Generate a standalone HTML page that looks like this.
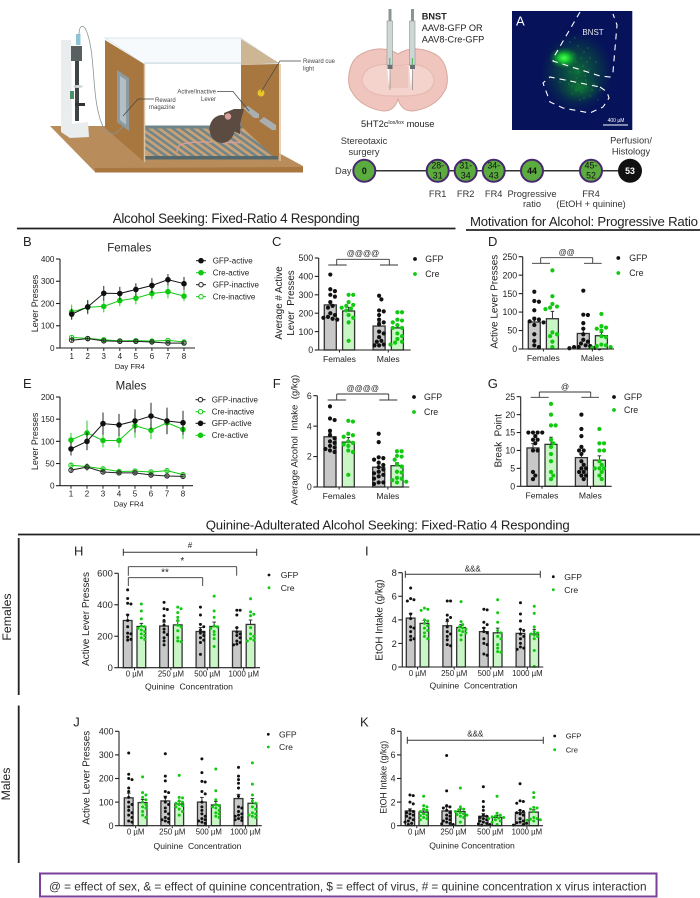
<!DOCTYPE html>
<html lang="en">
<head>
<meta charset="utf-8">
<title>Alcohol seeking figure</title>
<style>
html,body{margin:0;padding:0;background:#fff;}
#figure{display:block;width:700px;height:898px;filter:blur(0.3px);font-family:"Liberation Sans",sans-serif;fill:#222;}
#figure text{white-space:pre;}
</style>
</head>
<body>
<svg id="figure" xmlns="http://www.w3.org/2000/svg" width="700" height="898" viewBox="0 0 700 898">
<defs>
<radialGradient id="glow" cx="0.5" cy="0.5" r="0.5"><stop offset="0" stop-color="#4dff55"/><stop offset="0.35" stop-color="#18cf30" stop-opacity="0.95"/><stop offset="1" stop-color="#0a7a2a" stop-opacity="0"/></radialGradient>
<radialGradient id="glow2" cx="0.5" cy="0.5" r="0.5"><stop offset="0" stop-color="#12962c" stop-opacity="0.7"/><stop offset="0.6" stop-color="#0c5a38" stop-opacity="0.45"/><stop offset="1" stop-color="#0a4a40" stop-opacity="0"/></radialGradient>
<clipPath id="floor-clip"><polygon points="144,126 243,126 273,156 144,158"/></clipPath>
</defs>

<!-- Operant chamber illustration -->
<g>
  <polygon points="50,126 95,172 303,172 303,166 279,153 279,126 105,126" fill="#b98d5b"/>
  <polygon points="95,168 303,167 303,172.500 95,172.500" fill="#a8773f"/>
  <polygon points="105,38 241,38 279,64 144,64" fill="#f6fafc" stroke="#dbe6ec"/>
  <polygon points="144,64 241,64 241,126 144,126" fill="#fff"/>
  <line x1="144" y1="63" x2="279" y2="63" stroke="#d7e3ea" stroke-width="1.500"/>
  <polygon points="241,39 279,63 241,65" fill="#cdb694"/>
  <polygon points="144,126 243,126 273,156 144,158" fill="#c9a176"/>
  <g stroke="#71868a" stroke-width="2.600" clip-path="url(#floor-clip)">
    <path d="M118 128L160 158M127 128L169 158M136 128L178 158M145 128L187 158M154 128L196 158M163 128L205 158M172 128L214 158M181 128L223 158M190 128L232 158M199 128L241 158M208 128L250 158M217 128L259 158M226 128L268 158M235 128L277 158"/>
  </g>
  <rect x="144" y="125.500" width="99" height="3" fill="#6f8588"/>
  <rect x="144" y="156" width="134" height="3.500" fill="#55696d"/>
  <polygon points="105,40 144,64 144,162 105,128" fill="#a8773f"/>
  <polygon points="241,65 279,64 279,156 273,156 241,126" fill="#a8773f"/>
  <line x1="144.500" y1="64" x2="144.500" y2="162" stroke="#d8c3a2" stroke-width="1.500"/>
  <line x1="280" y1="64" x2="280" y2="161" stroke="#d8c3a2" stroke-width="1.500"/>
  <polygon points="117,70 129,78 129,131 117,122" fill="#8c9aa2"/>
  <polygon points="120,76 126,80 126,125 120,120" fill="#b4bfc4"/>
  <!-- pump -->
  <polygon points="61,40 71,40 72,124 88,122 89,137 70,138 61,132" fill="#e9eded"/>
  <rect x="76" y="34" width="4.500" height="11" fill="#8fc4d6"/>
  <rect x="71" y="46" width="11" height="15" fill="#596061"/>
  <rect x="75" y="61" width="4" height="60" fill="#3e4344"/>
  <rect x="75" y="103" width="10" height="3" fill="#2f3334"/>
  <rect x="70" y="91" width="4" height="8" fill="#4c8f6d"/>
  <ellipse cx="78" cy="86.500" rx="5" ry="1.500" fill="#cfd5d6"/>
  <path d="M79 35C79 25 83 24 86 30C95 50 92 90 99 115C104 136 115 140 124 124" fill="none" stroke="#8b9597" stroke-width="0.800"/>
  <!-- mouse -->
  <path d="M212 142C200 142 186 142 180 145C177 147 177 150 177 152" fill="none" stroke="#d59f9d" stroke-width="1.200"/>
  <path d="M222 142.500L240 142.500M239 128L240 136" stroke="#d59f9d" stroke-width="1.600"/>
  <ellipse cx="222" cy="129" rx="12.500" ry="14" fill="#5b4b40"/>
  <polygon points="224,113 234,109 244,109 241,120 240,134 226,128" fill="#5b4b40"/>
  <circle cx="228" cy="116.500" r="3.200" fill="#d9a09a"/>
  <!-- levers and light -->
  <polygon points="243,108 248,106 259,114 259,118 254,118" fill="#a9aeb0"/>
  <polygon points="259,121 264,117 276,125 276,130 272,130" fill="#a9aeb0"/>
  <circle cx="261" cy="93" r="3.500" fill="#e8c62a"/>
  <g fill="none" stroke="#444" stroke-width="0.700">
    <path d="M301 61H280L261 92"/><path d="M217 91.500H233L249 111"/><path d="M154 99H138L123 116"/>
  </g>
  <g font-size="6" fill="#444">
    <text x="303" y="63">Reward cue</text>
    <text x="303" y="70.500">light</text>
    <text x="216" y="93.500" text-anchor="end">Active/Inactive</text>
    <text x="216" y="101" text-anchor="end">Lever</text>
    <text x="155" y="102">Reward</text>
    <text x="149" y="109">magazine</text>
  </g>
</g>

<!-- Brain and syringes -->
<g>
  <path d="M398 54C385 46 370 48 358 56C348 64 346 84 352 92C358 103 372 110 384 111C392 111 396 106 398 99C400 106 404 111 412 111C425 110 438 103 444 92C450 84 448 64 438 56C426 48 410 46 398 54Z" fill="#efc5bd" stroke="#d9a79e"/>
  <path d="M398 66C380 62 362 66 362 82C366 92 376 96 392 96H404C420 96 432 92 434 82C434 66 416 62 398 66Z" fill="#f3d3cc" stroke="#e3b8af"/>
  <rect x="388" y="66" width="20" height="22" fill="#ecc5bd"/>
  <path d="M387 66L389 88L391 66Z" fill="#fff"/>
  <path d="M409 66L411 88L413 66Z" fill="#fff"/>
  <g>
    <rect x="388.500" y="9" width="3" height="12" fill="#8d9494"/>
    <rect x="387" y="21" width="5.500" height="44" fill="#cfd6d6" stroke="#8d9494" stroke-width="0.600"/>
    <rect x="389.300" y="58" width="1" height="8" fill="#39b54a"/>
    <rect x="387.500" y="65" width="5" height="4" fill="#6a7070"/>
    <line x1="390" y1="69" x2="390" y2="90" stroke="#777" stroke-width="0.600"/>
  </g>
  <g>
    <rect x="411" y="9" width="3" height="12" fill="#8d9494"/>
    <rect x="409.500" y="21" width="5.500" height="44" fill="#cfd6d6" stroke="#8d9494" stroke-width="0.600"/>
    <rect x="411.800" y="58" width="1" height="8" fill="#39b54a"/>
    <rect x="410" y="65" width="5" height="4" fill="#6a7070"/>
    <line x1="412.500" y1="69" x2="412.500" y2="90" stroke="#777" stroke-width="0.600"/>
  </g>
  <text x="421.700" y="19.500" font-size="9.200" font-weight="bold">BNST</text>
  <text x="421.700" y="31" font-size="9.200">AAV8-GFP OR</text>
  <text x="421.700" y="42.500" font-size="9.200">AAV8-Cre-GFP</text>
  <text x="361" y="127" font-size="9.300">5HT2c<tspan font-size="5.500" dy="-3">lox/lox</tspan><tspan dy="3"> mouse</tspan></text>
</g>

<!-- Histology panel -->
<g>
  <rect x="512" y="11" width="120.300" height="119" fill="#061259"/>
  <ellipse cx="577" cy="72" rx="36" ry="40" fill="url(#glow2)"/>
  <ellipse cx="580" cy="88" rx="22" ry="15" fill="url(#glow2)"/>
  <ellipse cx="564" cy="58" rx="15" ry="11" fill="url(#glow)"/>
  <path fill="none" stroke="#2cc23e" stroke-width="0.900" stroke-linecap="round" d="M570 42h.01M575 38h.01M578 46h.01M584 52h.01M590 58h.01M576 62h.01M583 66h.01M589 70h.01M595 74h.01M570 72h.01M577 78h.01M586 80h.01M594 84h.01M600 90h.01M566 80h.01M572 86h.01M582 92h.01M590 96h.01M598 100h.01M560 82h.01M588 48h.01M596 62h.01M580 100h.01M572 94h.01M574 54h.01M581 58h.01M587 62h.01M573 68h.01M579 72h.01M585 76h.01M569 84h.01M576 90h.01M586 86h.01M592 90h.01M584 98h.01M578 84h.01"/>
  <g fill="none" stroke="#fff" stroke-width="1.100" stroke-dasharray="6 5">
    <path d="M580 12L555 55L553 61L600 76L610 77L613 72L617 25L613 14"/>
    <path d="M600 87L607 92L609 98L603 107L590 113L563 108L550 102L543 83L550 77L600 87"/>
  </g>
  <text x="516" y="25.500" font-size="13" fill="#fff">A</text>
  <text x="593" y="35" font-size="8" fill="#e8e8e8" text-anchor="middle">BNST</text>
  <text x="616" y="122" font-size="5" fill="#fff" text-anchor="middle">400 µM</text>
  <rect x="603" y="124.500" width="25" height="1" fill="#fff"/>
</g>

<!-- Timeline -->
<g>
  <line x1="364" y1="170.800" x2="630" y2="170.800" stroke="#333" stroke-width="1.500"/>
  <text x="335" y="174" font-size="9.300" fill="#333">Day</text>
  <g font-size="9.300" fill="#333" text-anchor="middle">
    <text x="364" y="144">Stereotaxic</text>
    <text x="364" y="155">surgery</text>
    <text x="631" y="143.500">Perfusion/</text>
    <text x="631" y="154.500">Histology</text>
    <text x="437.700" y="197">FR1</text>
    <text x="465.700" y="197">FR2</text>
    <text x="493.700" y="197">FR4</text>
    <text x="532" y="197">Progressive</text>
    <text x="532" y="207">ratio</text>
    <text x="591" y="197">FR4</text>
    <text x="591" y="207">(EtOH + quinine)</text>
  </g>
  <g stroke="#47286f" stroke-width="2" fill="#5cab3f">
    <circle cx="364.300" cy="170.800" r="11"/>
    <circle cx="437.700" cy="170.800" r="11"/>
    <circle cx="465.700" cy="170.800" r="11"/>
    <circle cx="493.700" cy="170.800" r="11"/>
    <circle cx="532" cy="170.800" r="11"/>
    <circle cx="591" cy="170.800" r="11"/>
  </g>
  <circle cx="630" cy="170.800" r="12" fill="#111"/>
  <g font-size="8.800" fill="#111" text-anchor="middle">
    <text x="364.300" y="174" font-weight="bold">0</text>
    <text x="437.700" y="168.500">28-</text>
    <text x="437.700" y="178.500">31</text>
    <text x="465.700" y="168.500">31-</text>
    <text x="465.700" y="178.500">34</text>
    <text x="493.700" y="168.500">34-</text>
    <text x="493.700" y="178.500">43</text>
    <text x="532" y="174" font-weight="bold">44</text>
    <text x="591" y="168.500">45-</text>
    <text x="591" y="178.500">52</text>
    <text x="630" y="174" font-weight="bold" fill="#fff">53</text>
  </g>
</g>

<!-- Section headers -->
<text x="112.700" y="223" font-size="13.400" textLength="247" lengthAdjust="spacing">Alcohol Seeking: Fixed-Ratio 4 Responding</text>
<line x1="17" y1="228.500" x2="455.500" y2="228.500" stroke="#222" stroke-width="1.800"/>
<text x="470" y="226" font-size="13.200" textLength="228" lengthAdjust="spacing">Motivation for Alcohol: Progressive Ratio</text>
<line x1="466" y1="230" x2="700" y2="230" stroke="#222" stroke-width="1.800"/>
<text x="205.700" y="529.500" font-size="13.200" textLength="364" lengthAdjust="spacing">Quinine-Adulterated Alcohol Seeking: Fixed-Ratio 4 Responding</text>
<line x1="18" y1="534.500" x2="700" y2="534.500" stroke="#222" stroke-width="1.800"/>
<line x1="18.700" y1="538" x2="18.700" y2="695" stroke="#222" stroke-width="1.800"/>
<line x1="18.700" y1="705.500" x2="18.700" y2="863" stroke="#222" stroke-width="1.800"/>
<text transform="translate(11,617) rotate(-90)" font-size="12.300" text-anchor="middle">Females</text>
<text transform="translate(10,784) rotate(-90)" font-size="12.300" text-anchor="middle">Males</text>

<!-- Footer key -->
<rect x="40" y="873.500" width="616.500" height="23" fill="#fff" stroke="#7b3f9e" stroke-width="2"/>
<text x="49" y="890.500" font-size="11.800" fill="#333" textLength="597.500" lengthAdjust="spacing">@ = effect of sex, &amp; = effect of quinine concentration, $ = effect of virus, # = quinine concentration x virus interaction</text>

<g id="charts"></g>
</svg>

<script>
// ---------- Chart data ----------
const dayTicks = [1, 2, 3, 4, 5, 6, 7, 8];
const sexCategories = ["Females", "Males"];
const quinineCategories = ["0 µM", "250 µM", "500 µM", "1000 µM"];

const bGfpActive = [152, 185, 246, 245, 263, 281, 307, 289];
const bGfpActiveErr = [25, 30, 33, 30, 28, 33, 25, 30];
const bCreActive = [162, 183, 187, 213, 224, 245, 253, 233];
const bCreActiveErr = [33, 32, 27, 25, 28, 25, 30, 23];
const bGfpInactive = [35, 42, 32, 30, 30, 27, 22, 22];
const bGfpInactiveErr = [7, 8, 7, 7, 6, 7, 6, 6];
const bCreInactive = [47, 43, 37, 32, 33, 31, 34, 27];
const bCreInactiveErr = [8, 7, 6, 5, 5, 5, 6, 4];
const bYTicks = [0, 100, 200, 300, 400];

const eGfpActive = [83, 100, 140, 137, 146, 157, 146, 142];
const eGfpActiveErr = [15, 20, 25, 25, 26, 30, 30, 27];
const eCreActive = [103, 119, 102, 102, 135, 125, 142, 127];
const eCreActiveErr = [16, 28, 16, 16, 27, 20, 25, 22];
const eGfpInactive = [35, 42, 31, 29, 29, 24, 22, 21];
const eGfpInactiveErr = [6, 8, 6, 6, 6, 5, 5, 5];
const eCreInactive = [46, 43, 38, 32, 33, 31, 34, 25];
const eCreInactiveErr = [7, 6, 5, 5, 5, 4, 5, 4];
const eYTicks = [0, 50, 100, 150, 200];

const cMeans = [245, 212, 130, 120];
const cErrors = [20, 20, 22, 17];
const cFemaleGfp = [410, 330, 320, 300, 290, 260, 240, 230, 200, 190, 180, 175, 170, 165];
const cFemaleCre = [300, 300, 260, 245, 240, 230, 225, 215, 190, 175, 150, 50];
const cMaleGfp = [295, 275, 215, 210, 190, 165, 150, 140, 100, 90, 70, 50, 45, 30, 25, 25];
const cMaleCre = [205, 205, 165, 160, 150, 135, 120, 120, 90, 75, 60, 45, 40, 30];
const cYTicks = [0, 100, 200, 300, 400, 500];

const fMeans = [3.3, 2.95, 1.3, 1.4];
const fErrors = [0.25, 0.3, 0.22, 0.2];
const fFemaleGfp = [5.3, 4.5, 4.4, 3.7, 3.4, 3.2, 3.0, 2.9, 2.7, 2.6, 2.5, 2.4, 2.3];
const fFemaleCre = [4.35, 4.3, 3.5, 3.4, 3.3, 3.0, 2.9, 2.8, 2.7, 2.4, 2.3, 0.8];
const fMaleGfp = [3.5, 2.95, 1.95, 1.9, 1.8, 1.6, 1.45, 1.3, 1.15, 1.0, 0.9, 0.8, 0.7, 0.55, 0.3, 0.3, 0.2];
const fMaleCre = [2.35, 2.35, 2.05, 2.0, 1.8, 1.5, 1.35, 1.0, 0.95, 0.6, 0.55, 0.45, 0.35, 0.3];
const fYTicks = [0, 2, 4, 6];

const dMeans = [73, 82, 42, 36];
const dErrors = [13, 20, 12, 9];
const dFemaleGfp = [155, 130, 128, 105, 82, 80, 75, 72, 65, 40, 22, 10, 5];
const dFemaleCre = [213, 143, 122, 115, 112, 108, 45, 40, 35, 20, 5];
const dMaleGfp = [158, 93, 92, 70, 55, 40, 25, 20, 15, 10, 8, 5, 5, 3, 2, 2];
const dMaleCre = [95, 62, 58, 55, 50, 35, 32, 12, 10, 8, 5, 3];
const dYTicks = [0, 50, 100, 150, 200, 250];

const gMeans = [10.7, 11.7, 8, 7.3];
const gErrors = [1.2, 2, 1.2, 1.2];
const gFemaleGfp = [15, 15, 15, 15, 14, 13, 13, 12, 10, 10, 4, 3, 2];
const gFemaleCre = [23, 20, 17, 17, 13, 12, 11, 9, 7, 4, 3, 2];
const gMaleGfp = [20, 16, 14, 11, 10, 10, 9, 7, 6, 5, 5, 4, 4, 3, 3, 2];
const gMaleCre = [16, 12, 12, 10, 10, 7, 6, 5, 5, 5, 4, 3, 2];
const gYTicks = [0, 5, 10, 15, 20, 25];

const hMeans = [300, 262, 265, 272, 230, 262, 232, 275];
const hErrors = [38, 20, 25, 25, 25, 28, 22, 28];
const hGfp0 = [495, 440, 410, 405, 335, 300, 260, 220, 215, 195, 180, 175];
const hCre0 = [405, 360, 310, 265, 260, 250, 240, 230, 215, 205, 190, 180];
const hGfp250 = [415, 375, 370, 330, 300, 270, 245, 225, 210, 190, 170, 145];
const hCre250 = [385, 375, 350, 320, 300, 270, 260, 235, 190, 170, 165];
const hGfp500 = [385, 335, 275, 260, 240, 225, 220, 205, 190, 175, 160, 85];
const hCre500 = [455, 360, 320, 265, 260, 250, 230, 210, 185, 135];
const hGfp1000 = [365, 365, 335, 255, 225, 215, 205, 190, 170, 160, 150, 145];
const hCre1000 = [438, 355, 340, 330, 255, 215, 200, 185, 175, 170];
const hYTicks = [0, 200, 400, 600];

const iMeans = [4.15, 3.7, 3.5, 3.35, 3.0, 2.9, 2.85, 2.8];
const iErrors = [0.4, 0.25, 0.35, 0.25, 0.35, 0.4, 0.35, 0.4];
const iGfp0 = [6.7, 5.8, 5.7, 5.6, 4.5, 4.1, 3.4, 3.3, 3.0, 2.6, 2.4, 2.3];
const iCre0 = [5.0, 4.9, 4.8, 4.0, 3.9, 3.7, 3.5, 3.3, 3.1, 2.9, 2.6, 2.4];
const iGfp250 = [5.6, 5.6, 4.4, 4.2, 4.0, 3.4, 3.0, 2.8, 2.6, 2.3, 1.9, 1.8];
const iCre250 = [5.55, 3.85, 3.6, 3.4, 3.3, 3.2, 3.1, 3.0, 2.9, 2.7, 2.3];
const iGfp500 = [4.9, 4.85, 3.8, 3.6, 3.3, 3.0, 2.9, 2.4, 2.0, 1.9, 1.1, 1.0];
const iCre500 = [5.7, 4.6, 3.8, 3.1, 2.9, 2.6, 2.4, 1.9, 1.6, 1.3, 1.25];
const iGfp1000 = [5.45, 4.5, 3.9, 3.2, 3.1, 2.8, 2.6, 2.4, 2.0, 1.7, 1.6, 1.5];
const iCre1000 = [5.15, 4.55, 3.4, 3.0, 2.9, 2.8, 2.7, 2.6, 2.4, 1.4, 0.05];
const iYTicks = [0, 2, 4, 6, 8];

const jMeans = [118, 98, 105, 92, 100, 88, 115, 95];
const jErrors = [20, 13, 20, 12, 20, 15, 18, 20];
const jGfp0 = [308, 218, 200, 195, 160, 145, 120, 100, 90, 80, 65, 55, 45, 35, 20, 15];
const jCre0 = [207, 140, 130, 120, 110, 100, 90, 80, 75, 60, 45, 35];
const jGfp250 = [305, 210, 190, 145, 140, 120, 100, 90, 75, 60, 50, 35, 30, 25, 20, 15];
const jCre250 = [213, 120, 118, 105, 100, 95, 90, 85, 80, 70, 60, 45];
const jGfp500 = [283, 225, 188, 185, 145, 135, 100, 80, 65, 50, 40, 30, 25, 20, 15, 10];
const jCre500 = [240, 148, 110, 90, 85, 80, 75, 65, 55, 50, 40, 35];
const jGfp1000 = [247, 210, 195, 180, 160, 125, 80, 75, 60, 50, 45, 40, 35, 30, 25, 22];
const jCre1000 = [266, 176, 130, 105, 95, 80, 70, 55, 50, 45, 40, 35];
const jYTicks = [0, 100, 200, 300, 400];

const kMeans = [1.25, 1.15, 1.25, 1.2, 0.8, 0.7, 1.1, 1.15];
const kErrors = [0.18, 0.17, 0.35, 0.22, 0.22, 0.18, 0.2, 0.2];
const kGfp0 = [2.6, 2.55, 2.0, 1.85, 1.3, 1.2, 1.1, 1.0, 0.9, 0.8, 0.65, 0.5, 0.4, 0.3, 0.2, 0.1];
const kCre0 = [2.5, 1.7, 1.6, 1.4, 1.3, 1.2, 1.0, 0.9, 0.85, 0.7, 0.6, 0.5];
const kGfp250 = [5.95, 2.95, 1.7, 1.6, 1.5, 1.3, 1.1, 0.9, 0.8, 0.6, 0.5, 0.4, 0.3, 0.2, 0.15, 0.1];
const kCre250 = [3.2, 1.6, 1.4, 1.35, 1.2, 1.1, 1.0, 0.95, 0.9, 0.8, 0.7, 0.3];
const kGfp500 = [3.3, 2.05, 1.6, 1.3, 0.9, 0.8, 0.7, 0.6, 0.5, 0.4, 0.3, 0.2, 0.15, 0.1, 0.05];
const kCre500 = [2.5, 1.05, 0.9, 0.8, 0.75, 0.7, 0.65, 0.6, 0.5, 0.4, 0.3, 0.1];
const kGfp1000 = [3.55, 2.1, 2.05, 1.9, 1.3, 1.2, 1.1, 1.0, 0.9, 0.6, 0.4, 0.3, 0.25, 0.2, 0.1, 0.05];
const kCre1000 = [2.8, 2.4, 1.55, 1.5, 1.4, 1.2, 0.7, 0.6, 0.55, 0.5, 0.45, 0.4];
const kYTicks = [0, 2, 4, 6, 8];

// ---------- Drawing helpers ----------
var GREEN = "#11c911", INK = "#222", GFP_FILL = "#c8c8c8", CRE_FILL = "#c8f6c4";
var root = document.getElementById("charts");

function node(tag, parent, name) {
  var el = document.createElementNS("http://www.w3.org/2000/svg", tag);
  
  
  parent.appendChild(el);
  return el;
}
function line(parent, name, x1, y1, x2, y2, color, width) {
  var el = node("line", parent, name);
  el.setAttribute("x1", x1); el.setAttribute("y1", y1);
  el.setAttribute("x2", x2); el.setAttribute("y2", y2);
  el.setAttribute("stroke", color || INK);
  el.setAttribute("stroke-width", width || 1);
  return el;
}
function label(parent, name, str, x, y, size, anchor, rotate) {
  var el = node("text", parent, name);
  el.textContent = str;
  el.setAttribute("font-size", size);
  if (anchor) el.setAttribute("text-anchor", anchor);
  if (rotate) { el.setAttribute("transform", "translate(" + x + "," + y + ") rotate(-90)"); }
  else { el.setAttribute("x", x); el.setAttribute("y", y); }
  return el;
}
function dot(parent, name, x, y, r, fill, stroke, sw) {
  var el = node("circle", parent, name);
  el.setAttribute("cx", x); el.setAttribute("cy", y); el.setAttribute("r", r);
  el.setAttribute("fill", fill || "none");
  if (stroke) { el.setAttribute("stroke", stroke); el.setAttribute("stroke-width", sw || 1); }
  return el;
}
function scaleLinear(v0, v1, p0, p1) { return function (v) { return p0 + (v - v0) / (v1 - v0) * (p1 - p0); }; }

function yAxis(g, f, ticks, yScale, tickSize) {
  line(g, "y-axis", f.x, yScale(ticks[0]), f.x, yScale(ticks[ticks.length - 1]), INK, 1.1);
  ticks.forEach(function (t) {
    line(g, "y-tick", f.x - 4, yScale(t), f.x, yScale(t), INK, 1.1);
    label(g, "y-tick-label", String(t), f.x - 5.5, yScale(t) + tickSize * 0.36, tickSize, "end");
  });
}

function legendDots(g, l) {
  var rows = [["GFP", "#111"], ["Cre", GREEN]];
  rows.forEach(function (row, i) {
    var y = i === 0 ? l.y1 : l.y2;
    dot(g, "legend-marker-" + row[0].toLowerCase(), l.dotX, y, l.r, row[1]);
    label(g, "legend-label-" + row[0].toLowerCase(), row[0], l.textX, y + l.size * 0.36, l.size);
  });
}

function swarm(values, cx, yScale, r) {
  var placed = [], minD = r * 2, step = r * 1.1;
  values.slice().sort(function (a, b) { return b - a; }).forEach(function (v) {
    var y = yScale(v), k = 0, x;
    for (;;) {
      var off = Math.ceil(k / 2) * step * (k % 2 ? 1 : -1);
      x = cx + off;
      var clash = placed.some(function (p) { return Math.hypot(p.x - x, p.y - y) < minD; });
      if (!clash || k > 12) break;
      k++;
    }
    placed.push({ x: x, y: y });
  });
  return placed;
}

// Bar + error + scatter panel
function barPanel(p) {
  var g = node("g", root, "panel-" + p.id);
  var yScale = scaleLinear(p.yTicks[0], p.yTicks[p.yTicks.length - 1], p.y0, p.yTop);
  var nPerGroup = 2;
  function barX(i) {
    var group = Math.floor(i / nPerGroup), s = i % nPerGroup;
    return p.x0 + group * p.groupStep + s * p.seriesStep;
  }
  p.means.forEach(function (m, i) {
    var isCre = i % 2 === 1;
    var bar = node("rect", g, "bar-" + p.id + "-" + (isCre ? "cre-" : "gfp-") + p.categories[Math.floor(i / 2)]);
    bar.setAttribute("x", barX(i));
    bar.setAttribute("y", yScale(m));
    bar.setAttribute("width", p.barW);
    bar.setAttribute("height", p.y0 - yScale(m));
    bar.setAttribute("fill", isCre ? CRE_FILL : GFP_FILL);
    bar.setAttribute("stroke", "#333");
    bar.setAttribute("stroke-width", 1.3);
    var cx = barX(i) + p.barW / 2;
    line(g, "error-bar", cx, yScale(m + p.errors[i]), cx, yScale(m), "#222", 0.9);
    line(g, "error-cap", cx - 1.8, yScale(m + p.errors[i]), cx + 1.8, yScale(m + p.errors[i]), "#222", 0.9);
    swarm(p.points[i], cx, yScale, p.r).forEach(function (pt) {
      dot(g, "data-point", pt.x, pt.y, p.r, isCre ? GREEN : "#111");
    });
  });
  line(g, "x-axis", p.x, p.y0, p.xEnd, p.y0, INK, 1.1);
  yAxis(g, { x: p.x }, p.yTicks, yScale, p.tickSize);
  p.categories.forEach(function (c, gi) {
    var cx = p.x0 + gi * p.groupStep + (p.seriesStep + p.barW) / 2;
    line(g, "x-tick", cx, p.y0, cx, p.y0 + 2.5);
    label(g, "x-category-label", c, cx, p.y0 + p.catOffset, p.catSize, "middle");
  });
  (p.yTitles || []).forEach(function (t) {
    label(g, "y-axis-title", t.text, t.x, t.y, t.size, "middle", true);
  });
  if (p.xTitle) label(g, "x-axis-title", p.xTitle.text, p.xTitle.x, p.xTitle.y, p.xTitle.size, "middle");
  label(g, "panel-letter", p.id.toUpperCase(), p.letterX, p.letterY, 13);
  if (p.legend) legendDots(g, p.legend);
  return g;
}

// Sex-effect bracket
function bracket(p, b) {
  var g = node("g", root, "significance-bracket-" + p);
  line(g, "bracket-left-foot", b.l1, b.footY, b.l2, b.footY, "#333", 0.9);
  line(g, "bracket-right-foot", b.r1, b.footY, b.r2, b.footY, "#333", 0.9);
  line(g, "bracket-top", b.t1, b.topY, b.t2, b.topY, "#333", 0.9);
  line(g, "bracket-left-drop", b.t1, b.topY, b.t1, b.footY, "#333", 0.9);
  line(g, "bracket-right-drop", b.t2, b.topY, b.t2, b.footY, "#333", 0.9);
  label(g, "significance-label", b.text, b.textX, b.textY, b.size || 8, "middle");
}
function spanBar(p, x1, x2, y, text, textX, textY) {
  var g = node("g", root, "interaction-span-" + p);
  line(g, "span-line", x1, y, x2, y, "#333", 1);
  line(g, "span-cap-left", x1, y - 3.5, x1, y + 3.5, "#333", 1);
  line(g, "span-cap-right", x2, y - 3.5, x2, y + 3.5, "#333", 1);
  label(g, "span-label", text, textX, textY, 8, "middle");
}
function dropBracket(p, x1, x2, topY, botY, text, textX, textY) {
  var g = node("g", root, "comparison-bracket-" + p);
  line(g, "bracket-top", x1, topY, x2, topY, "#333", 0.9);
  line(g, "bracket-left", x1, topY, x1, botY, "#333", 0.9);
  line(g, "bracket-right", x2, topY, x2, botY, "#333", 0.9);
  label(g, "significance-label", text, textX, textY, 10, "middle");
}

// Line panel
function linePanel(p) {
  var g = node("g", root, "panel-" + p.id);
  var yScale = scaleLinear(p.yTicks[0], p.yTicks[p.yTicks.length - 1], p.y0, p.yTop);
  var xScale = scaleLinear(dayTicks[0], dayTicks[dayTicks.length - 1], p.x1, p.x8);
  p.series.forEach(function (s) {
    var color = s.color;
    s.values.forEach(function (v, i) {
      var x = xScale(dayTicks[i]);
      line(g, "error-bar-" + s.name, x, yScale(v - s.errors[i]), x, yScale(v + s.errors[i]), color, 0.9);
    });
    var path = node("polyline", g, "line-" + s.name);
    path.setAttribute("points", s.values.map(function (v, i) { return xScale(dayTicks[i]) + "," + yScale(v); }).join(" "));
    path.setAttribute("fill", "none");
    path.setAttribute("stroke", color);
    path.setAttribute("stroke-width", 1);
    s.values.forEach(function (v, i) {
      var x = xScale(dayTicks[i]);
      if (s.open) dot(g, "point-" + s.name, x, yScale(v), 2.2, "none", color, 1);
      else dot(g, "point-" + s.name, x, yScale(v), 2.8, color);
    });
  });
  line(g, "x-axis", p.x, p.y0, p.xEnd, p.y0, INK, 1.1);
  yAxis(g, { x: p.x }, p.yTicks, yScale, 8.2);
  dayTicks.forEach(function (d) {
    line(g, "x-tick", xScale(d), p.y0, xScale(d), p.y0 + 3);
    label(g, "x-tick-label", String(d), xScale(d), p.y0 + 11, 8, "middle");
  });
  label(g, "x-axis-title", "Day FR4", p.titleX, p.y0 + 21, 7.6, "middle");
  label(g, "y-axis-title", "Lever Presses", p.yTitleX, (p.y0 + p.yTop) / 2, 9, "middle", true);
  label(g, "chart-title", p.title, p.chartTitleX, p.chartTitleY, 11.5, "middle");
  label(g, "panel-letter", p.id.toUpperCase(), 23, p.letterY, 13);
  p.legend.forEach(function (row) {
    line(g, "legend-line", p.legX - 5, row.y, p.legX + 5, row.y, row.color, 1);
    if (row.open) dot(g, "legend-marker", p.legX, row.y, 2.2, "#fff", row.color, 1);
    else dot(g, "legend-marker", p.legX, row.y, 2.8, row.color);
    label(g, "legend-label", row.name, p.legText, row.y + 2.9, 8);
  });
}

// ---------- Panels ----------
linePanel({ id: "b", title: "Females", chartTitleX: 129.3, chartTitleY: 251.7, letterY: 246,
  x: 60, xEnd: 195, x1: 71.7, x8: 184, y0: 348, yTop: 259, yTicks: bYTicks, titleX: 129.7, yTitleX: 38,
  legX: 201, legText: 212.7,
  series: [
    { name: "cre-inactive", values: bCreInactive, errors: bCreInactiveErr, color: GREEN, open: true },
    { name: "gfp-inactive", values: bGfpInactive, errors: bGfpInactiveErr, color: "#222", open: true },
    { name: "cre-active", values: bCreActive, errors: bCreActiveErr, color: GREEN },
    { name: "gfp-active", values: bGfpActive, errors: bGfpActiveErr, color: "#111" }
  ],
  legend: [
    { name: "GFP-active", y: 260.7, color: "#111" },
    { name: "Cre-active", y: 272.7, color: GREEN },
    { name: "GFP-inactive", y: 284.7, color: "#222", open: true },
    { name: "Cre-inactive", y: 296.7, color: GREEN, open: true }
  ] });

linePanel({ id: "e", title: "Males", chartTitleX: 131, chartTitleY: 389.3, letterY: 388,
  x: 60, xEnd: 193, x1: 71, x8: 183, y0: 485.7, yTop: 397, yTicks: eYTicks, titleX: 128.7, yTitleX: 38,
  legX: 200.5, legText: 211.7,
  series: [
    { name: "cre-inactive", values: eCreInactive, errors: eCreInactiveErr, color: GREEN, open: true },
    { name: "gfp-inactive", values: eGfpInactive, errors: eGfpInactiveErr, color: "#222", open: true },
    { name: "cre-active", values: eCreActive, errors: eCreActiveErr, color: GREEN },
    { name: "gfp-active", values: eGfpActive, errors: eGfpActiveErr, color: "#111" }
  ],
  legend: [
    { name: "GFP-inactive", y: 399.7, color: "#222", open: true },
    { name: "Cre-inactive", y: 411.7, color: GREEN, open: true },
    { name: "GFP-active", y: 423.3, color: "#111" },
    { name: "Cre-active", y: 435.3, color: GREEN }
  ] });

barPanel({ id: "c", categories: sexCategories, means: cMeans, errors: cErrors,
  points: [cFemaleGfp, cFemaleCre, cMaleGfp, cMaleCre], yTicks: cYTicks,
  x: 318.7, xEnd: 410.7, y0: 350, yTop: 258, x0: 324.3, barW: 12, seriesStep: 18.3, groupStep: 48.8, r: 2.1,
  tickSize: 8.8, catOffset: 12, catSize: 8.6, letterX: 272, letterY: 246,
  yTitles: [{ text: "Average # Active", x: 282, y: 303, size: 9.8 }, { text: "Lever  Presses", x: 294, y: 303, size: 9.8 }],
  legend: { dotX: 415, y1: 259, y2: 274, textX: 425.3, r: 1.9, size: 8.8 } });
bracket("c", { l1: 328.3, l2: 346.7, r1: 380, r2: 398, footY: 265, t1: 336.7, t2: 389.3, topY: 259.3, text: "@@@@", textX: 363, textY: 256 });

barPanel({ id: "f", categories: sexCategories, means: fMeans, errors: fErrors,
  points: [fFemaleGfp, fFemaleCre, fMaleGfp, fMaleCre], yTicks: fYTicks,
  x: 317.3, xEnd: 409.3, y0: 487, yTop: 395.7, x0: 324, barW: 12, seriesStep: 18.3, groupStep: 48.7, r: 2.1,
  tickSize: 8.8, catOffset: 12, catSize: 8.6, letterX: 272.7, letterY: 388,
  yTitles: [{ text: "Average Alcohol  Intake  (g/kg)", x: 297.5, y: 440, size: 9.6 }],
  legend: { dotX: 414, y1: 397, y2: 412, textX: 424, r: 1.9, size: 8.8 } });
bracket("f", { l1: 327.7, l2: 346, r1: 379.3, r2: 397.3, footY: 400, t1: 336.7, t2: 388.7, topY: 394, text: "@@@@", textX: 362.7, textY: 391 });

barPanel({ id: "d", categories: sexCategories, means: dMeans, errors: dErrors,
  points: [dFemaleGfp, dFemaleCre, dMaleGfp, dMaleCre], yTicks: dYTicks,
  x: 522.7, xEnd: 614, y0: 349, yTop: 256.7, x0: 528.3, barW: 12, seriesStep: 18.1, groupStep: 49, r: 2.1,
  tickSize: 8.8, catOffset: 12, catSize: 8.6, letterX: 488, letterY: 246,
  yTitles: [{ text: "Active Lever Presses", x: 497.5, y: 301.7, size: 10 }],
  legend: { dotX: 618.3, y1: 258, y2: 273, textX: 629.3, r: 1.9, size: 8.8 } });
bracket("d", { l1: 532, l2: 550, r1: 584, r2: 601.7, footY: 263.3, t1: 540.7, t2: 592.7, topY: 257.7, text: "@@", textX: 566.7, textY: 255 });

barPanel({ id: "g", categories: sexCategories, means: gMeans, errors: gErrors,
  points: [gFemaleGfp, gFemaleCre, gMaleGfp, gMaleCre], yTicks: gYTicks,
  x: 520.7, xEnd: 611.7, y0: 486.3, yTop: 396.7, x0: 527, barW: 12, seriesStep: 18, groupStep: 48.4, r: 2.1,
  tickSize: 8.8, catOffset: 12, catSize: 8.6, letterX: 487.7, letterY: 388,
  yTitles: [{ text: "Break  Point", x: 501.5, y: 440.7, size: 9.8 }],
  legend: { dotX: 614, y1: 397, y2: 410, textX: 624, r: 1.9, size: 8.8 } });
bracket("g", { l1: 530.7, l2: 548.7, r1: 581.3, r2: 599, footY: 397.3, t1: 539.3, t2: 590.7, topY: 392, text: "@", textX: 565, textY: 389.5 });

barPanel({ id: "h", categories: quinineCategories, means: hMeans, errors: hErrors,
  points: [hGfp0, hCre0, hGfp250, hCre250, hGfp500, hCre500, hGfp1000, hCre1000], yTicks: hYTicks,
  x: 118.3, xEnd: 260, y0: 667.7, yTop: 573.3, x0: 123.3, barW: 8.7, seriesStep: 13.7, groupStep: 36.4, r: 1.5,
  tickSize: 9.4, catOffset: 8.6, catSize: 7.8, letterX: 74, letterY: 555.7,
  yTitles: [{ text: "Active Lever Presses", x: 89, y: 619, size: 10 }],
  xTitle: { text: "Quinine  Concentration", x: 189, y: 689.5, size: 8.6 },
  legend: { dotX: 269, y1: 575, y2: 587.7, textX: 280.7, r: 1.4, size: 8.6 } });
spanBar("h", 123.3, 256.7, 552.3, "#", 190, 548);
dropBracket("h-1000", 128.3, 236.7, 566.7, 575.7, "*", 182.3, 564);
dropBracket("h-500", 128.3, 202.7, 577.7, 586, "**", 165, 575.5);

barPanel({ id: "i", categories: quinineCategories, means: iMeans, errors: iErrors,
  points: [iGfp0, iCre0, iGfp250, iCre250, iGfp500, iCre500, iGfp1000, iCre1000], yTicks: iYTicks,
  x: 402.3, xEnd: 543.3, y0: 667, yTop: 572.7, x0: 406.3, barW: 8.7, seriesStep: 13.8, groupStep: 36.6, r: 1.5,
  tickSize: 9.4, catOffset: 9, catSize: 7.8, letterX: 365, letterY: 555.7,
  yTitles: [{ text: "EtOH Intake (g/kg)", x: 382.5, y: 620, size: 9.8 }],
  xTitle: { text: "Quinine  Concentration", x: 473.5, y: 688.5, size: 8.6 },
  legend: { dotX: 553.3, y1: 576.7, y2: 589.7, textX: 564.3, r: 1.4, size: 8.6 } });
spanBar("i", 405.3, 540.3, 574.3, "&&&", 472.7, 571.5);

barPanel({ id: "j", categories: quinineCategories, means: jMeans, errors: jErrors,
  points: [jGfp0, jCre0, jGfp250, jCre250, jGfp500, jCre500, jGfp1000, jCre1000], yTicks: jYTicks,
  x: 119, xEnd: 261.7, y0: 825.7, yTop: 731.3, x0: 124.3, barW: 8.8, seriesStep: 13.9, groupStep: 36.6, r: 1.5,
  tickSize: 8.8, catOffset: 8.6, catSize: 7.8, letterX: 73.3, letterY: 726.7,
  yTitles: [{ text: "Active Lever Presses", x: 89.5, y: 777.7, size: 10 }],
  xTitle: { text: "Quinine  Concentration", x: 197.5, y: 849, size: 8.6 },
  legend: { dotX: 268.3, y1: 734.3, y2: 747, textX: 279, r: 1.4, size: 8.6 } });

barPanel({ id: "k", categories: quinineCategories, means: kMeans, errors: kErrors,
  points: [kGfp0, kCre0, kGfp250, kCre250, kGfp500, kCre500, kGfp1000, kCre1000], yTicks: kYTicks,
  x: 401, xEnd: 543, y0: 825.7, yTop: 731.3, x0: 405.3, barW: 9.3, seriesStep: 13.7, groupStep: 36.7, r: 1.5,
  tickSize: 8.8, catOffset: 8.6, catSize: 7.8, letterX: 360, letterY: 726.7,
  yTitles: [{ text: "EtOH Intake (g/kg)", x: 386.5, y: 777.3, size: 8.8 }],
  xTitle: { text: "Quinine Concentration", x: 472, y: 848.5, size: 8.6 },
  legend: { dotX: 554.7, y1: 736, y2: 749.7, textX: 565.7, r: 1.4, size: 7.6 } });
spanBar("k", 407.3, 543.3, 740.3, "&&&", 475.3, 736.5);
</script>
</body>
</html>
